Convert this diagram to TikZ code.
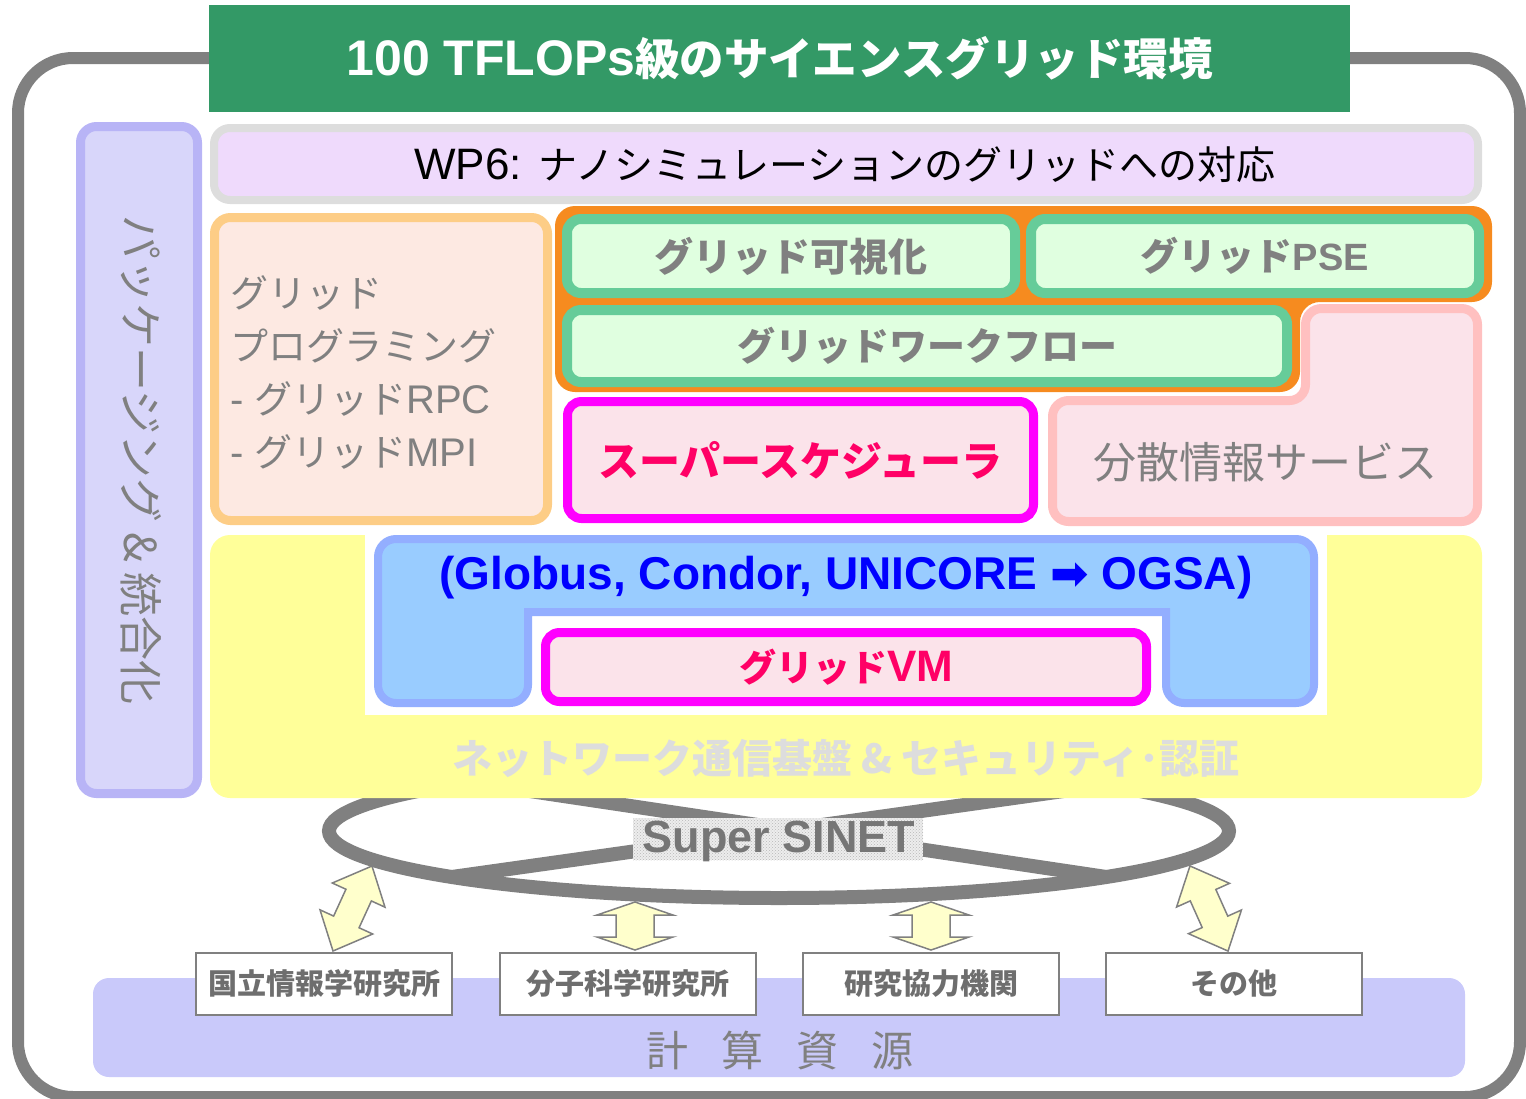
\documentclass[tikz,border=0pt]{standalone}
\usepackage{fontspec}
\setmainfont{Liberation Sans}
\newfontfamily\jp{Noto Sans CJK JP}
\newfontfamily\djv{DejaVu Sans}
\usetikzlibrary{shapes.geometric,patterns}
\definecolor{frame}{HTML}{808080}
\definecolor{ttl}{HTML}{339966}
\definecolor{pkgB}{HTML}{B8B4F6}
\definecolor{pkgF}{HTML}{D8D6FA}
\definecolor{wpB}{HTML}{DDDDDD}
\definecolor{wpF}{HTML}{EFDAFC}
\definecolor{prgB}{HTML}{FDCD86}
\definecolor{prgF}{HTML}{FDE9E2}
\definecolor{orn}{HTML}{F68B1F}
\definecolor{grnB}{HTML}{66CC99}
\definecolor{grnF}{HTML}{E0FFE0}
\definecolor{pnkB}{HTML}{FFC0C0}
\definecolor{pnkF}{HTML}{FBE3EA}
\definecolor{mag}{HTML}{FF00FF}
\definecolor{magT}{HTML}{FF0066}
\definecolor{ylw}{HTML}{FFFF99}
\definecolor{bluF}{HTML}{99CCFF}
\definecolor{bluB}{HTML}{93AEFF}
\definecolor{netT}{HTML}{DDDDDD}
\definecolor{arrF}{HTML}{FFFFCC}
\definecolor{band}{HTML}{C9C9FA}
\definecolor{txtG}{HTML}{808080}
\definecolor{boxT}{HTML}{6E6E6E}
\definecolor{lblF}{HTML}{EDEDED}
\definecolor{lblP}{HTML}{B8B8B8}
\definecolor{lblT}{HTML}{767676}
\newcommand\fsz[1]{\fontsize{#1}{#1}\selectfont}
\newcommand\fatarr[7]{%
  \begin{scope}[shift={(#1,#2)}, rotate=#3]
    \draw[fatarrow] (-#4,0) -- (-#4+#5,#6) -- (-#4+#5,#7) -- (#4-#5,#7) -- (#4-#5,#6) -- (#4,0)
      -- (#4-#5,-#6) -- (#4-#5,-#7) -- (-#4+#5,-#7) -- (-#4+#5,-#6) -- cycle;
  \end{scope}}
\begin{document}
\begin{tikzpicture}[x=1pt,y=-1pt,
  every node/.style={inner sep=0pt, outer sep=0pt},
  pkgbox/.style={draw=pkgB, fill=pkgF, line width=9pt, rounded corners=16pt},
  wpbox/.style={draw=wpB, fill=wpF, line width=8pt, rounded corners=16pt},
  prgbox/.style={draw=prgB, fill=prgF, line width=9pt, rounded corners=16pt},
  grnbox/.style={draw=grnB, fill=grnF, line width=10pt, rounded corners=14pt, text=txtG},
  pnkbox/.style={draw=pnkB, fill=pnkF, line width=9pt, rounded corners=16pt},
  magbox/.style={draw=mag, fill=pnkF, line width=9pt, rounded corners=14pt, text=magT},
  resbox/.style={draw=frame, fill=white, line width=2pt, minimum width=256pt, minimum height=62pt, text=boxT, font=\jp\bfseries\fsz{29}},
  fatarrow/.style={draw=frame, fill=arrF, line width=1.5pt, line join=miter},
  thickgray/.style={draw=frame, line width=14pt}
]
\useasboundingbox (0,0) rectangle (1526,1098);

% outer frame
\draw[frame, line width=12pt, rounded corners=55pt] (18,58) rectangle (1520,1097);

% title
\node[fill=ttl, minimum width=1141pt, minimum height=107pt, text=white, font=\bfseries\fsz{50}] (title) at (779.5,58.5)
  {100 TFLOPs{\jp\fsz{44.5}級のサイエンスグリッド環境}};

% left vertical box
\node[pkgbox, minimum width=117pt, minimum height=667pt] (pkg) at (139,460) {};
\node[rotate=-90, text=txtG, font=\jp\fsz{44}] (pkgt) at (141,460) {パッケージング \& 統合化};

% WP6
\node[wpbox, minimum width=1264pt, minimum height=72pt] (wp6) at (846,164) {};
\node[font=\fsz{44}] (wp6t) at (845,165) {WP6: {\jp\fsz{39}ナノシミュレーションのグリッドへの対応}};

% programming
\node[prgbox, minimum width=333pt, minimum height=303pt] (prg) at (381,369) {};
\node[anchor=west, align=left, text=txtG, font=\fontsize{40}{53}\selectfont] (prgt) at (230,372)
  {{\jp\fontsize{38}{53}\selectfont グリッド}\\{\jp\fontsize{38}{53}\selectfont プログラミング}\\- {\jp\fontsize{38}{53}\selectfont グリッド}RPC\\- {\jp\fontsize{38}{53}\selectfont グリッド}MPI};

% orange group
\fill[orn, rounded corners=20pt] (555,206) -- (1492,206) -- (1492,302) -- (1300,302) -- (1300,392) -- (555,392) -- cycle;
\node[grnbox, minimum width=448pt, minimum height=74pt, font=\jp\bfseries\fsz{39}] (vis) at (791,256) {グリッド可視化};
\node[grnbox, minimum width=448pt, minimum height=74pt, font=\bfseries\fsz{38}] (pse) at (1255,256) {{\jp グリッド}PSE};
\node[grnbox, minimum width=720pt, minimum height=72pt, font=\jp\bfseries\fsz{38}] (wf) at (927,346) {グリッドワークフロー};

% distributed info service (L shape)
\draw[pnkbox] (1305.5,308.5) -- (1477.5,308.5) -- (1477.5,521.5) -- (1052.5,521.5) -- (1052.5,400.5) -- (1305.5,400.5) -- cycle;
\node[text=txtG, font=\jp\fsz{43}] (dist) at (1265,462) {分散情報サービス};

% super scheduler
\node[magbox, minimum width=466pt, minimum height=117pt, font=\jp\bfseries\fsz{41}] (sched) at (800.5,460) {スーパースケジューラ};

% Super SINET ring
\node[ellipse, draw=frame, line width=14pt, minimum width=900pt, minimum height=134pt] (sinet) at (779,831) {};
\draw[thickgray] (sinet.171.5) -- (sinet.-8.5);
\draw[thickgray] (sinet.8.5) -- (sinet.188.5);
\node[preaction={fill=lblF}, pattern=crosshatch dots, pattern color=lblP, minimum width=290pt, minimum height=42pt] (sinetbg) at (778,839) {};
\node[text=lblT, font=\bfseries\fsz{45}] (sinetl) at (779,841) {Super SINET};

% yellow network layer
\fill[ylw, rounded corners=20pt] (210,535) rectangle (1482,798);
\fill[white] (365,535) rectangle (1327,715);
\draw[draw=bluB, fill=bluF, line width=8pt, rounded corners=18pt]
  (378,539) -- (1314,539) -- (1314,703) -- (1166,703) [sharp corners] -- (1166,612) -- (528,612) [rounded corners=18pt] -- (528,703) -- (378,703) -- cycle;
\node[text=blue, font=\bfseries\fsz{46}] (glob) at (846,578) {(Globus, Condor, UNICORE {\djv ➡} OGSA)};
\node[magbox, minimum width=601pt, minimum height=69pt, font=\bfseries\fsz{44}] (vm) at (846,667) {{\jp\fsz{37}グリッド}VM};
\node[text=netT, font=\jp\bfseries\fsz{40}] (net) at (846,758) {ネットワーク通信基盤 \& セキュリティ･認証};

% computing resources band
\node[fill=band, rounded corners=16pt, minimum width=1372pt, minimum height=99pt] (res) at (779,1027.5) {};
\node[text=txtG, font=\jp\fsz{42}] (rest) at (780,1050) {計\hspace{33pt}算\hspace{33pt}資\hspace{33pt}源};

% arrows
\fatarr{352.5}{908.5}{-114.65}{46.75}{32}{29}{14}
\fatarr{635}{926}{90}{24}{13}{38}{19}
\fatarr{931}{926}{90}{24}{13}{38}{19}
\fatarr{1209}{908.5}{-65.9}{46.6}{32}{29}{14}

% resource boxes
\node[resbox] (nii) at (324,984) {国立情報学研究所};
\node[resbox] (ims) at (627.5,984) {分子科学研究所};
\node[resbox] (coop) at (931,984) {研究協力機関};
\node[resbox] (oth) at (1234,984) {その他};
\end{tikzpicture}
\end{document}
